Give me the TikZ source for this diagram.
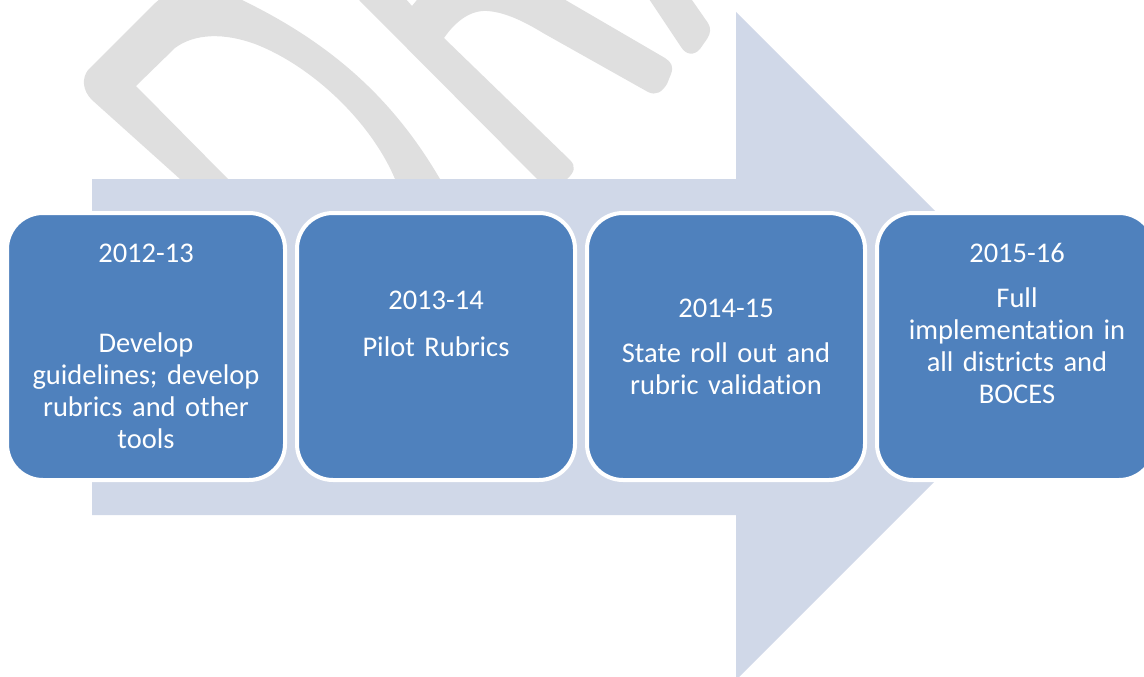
\documentclass[tikz,border=0pt]{standalone}
\usepackage{fontspec}
\setmainfont{Carlito}[Ligatures=NoCommon]
\usetikzlibrary{positioning}
\definecolor{boxblue}{HTML}{4F81BD}
\definecolor{arrowgray}{HTML}{D0D8E8}
\definecolor{markgray}{HTML}{DFDFDF}
\tikzstyle{block} = [rectangle, draw=white, line width=4pt, fill=boxblue, rounded corners=36pt, minimum width=278pt, minimum height=267pt]
\tikzstyle{boxtext} = [text=white, font=\fontsize{28.5}{32}\selectfont, text width=270pt, align=center, anchor=base, inner sep=0pt]
\tikzstyle{watermark} = [fill=markgray]

\begin{document}
\begin{tikzpicture}[x=1pt, y=-1pt, node distance=290pt]
	\useasboundingbox (0,0) rectangle (1144,677);
	% Watermark
	\path [watermark] (228,190) -- (228,179) -- (136,86) -- (175,48) .. controls (195,33) and (225,33) .. (255,44) .. controls (310,65) and (370,120) .. (395,179) -- (395,190) -- (440,190) -- (440,179) .. controls (395,102) and (335,45) .. (242,0) .. controls (210,-18) and (178,-20) .. (152,6) -- (88,70) .. controls (82,78) and (82,90) .. (92,100) -- (180,179) -- (180,190) -- cycle;
	\path [watermark] (362,-10) -- (359,0) -- (548,190) -- (566,190) -- (567,179) .. controls (575,172) and (576,166) .. (570,160) -- (444,38) .. controls (455,22) and (470,10) .. (487,11) .. controls (505,12) and (525,22) .. (543,33) -- (648,92) .. controls (656,96) and (662,92) .. (667,84) -- (671,74) .. controls (674,66) and (671,62) .. (665,58) -- (562,-2) -- (560,-10) -- (425,-10) -- (412,6) -- (398,-10) -- cycle;
	\path [watermark] (643,-10) -- (681,47) .. controls (686,55) and (694,56) .. (700,49) -- (707,39) .. controls (711,33) and (711,28) .. (708,23) -- (685,-10) -- cycle;
	% Big arrow
	\fill [arrowgray] (92,179) -- (736,179) -- (736,12) -- (1070,346) -- (736,680) -- (736,515) -- (92,515) -- cycle;
	% Place nodes
	\node [block] (y1) at (146,346.5) {};
	\node [block, right of=y1] (y2) {};
	\node [block, right of=y2] (y3) {};
	\node [block, right of=y3] (y4) {};
	% Texts
	\node [boxtext] (t1) at (146,262) {2012-13\\[58pt]Develop\\guidelines; develop\\rubrics and other\\tools};
	\node [boxtext] (t2) at (436,309) {2013-14\\[15pt]Pilot Rubrics};
	\node [boxtext] (t3) at (726,317) {2014-15\\[13pt]State roll out and\\rubric validation};
	\node [boxtext] (t4) at (1017,262) {2015-16\\[13pt]Full\\implementation in\\all districts and\\BOCES};
\end{tikzpicture}
\end{document}
